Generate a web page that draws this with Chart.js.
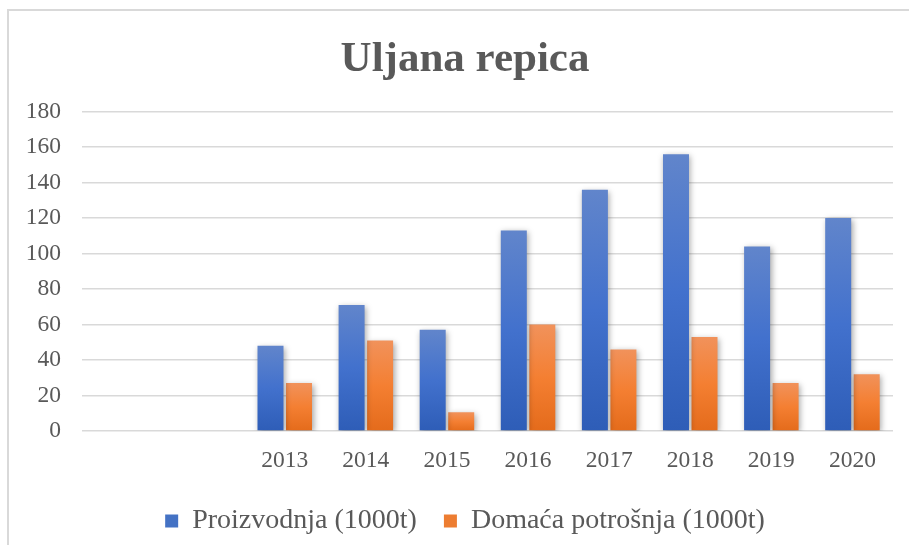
<!DOCTYPE html>
<html>
<head>
<meta charset="utf-8">
<script src="https://cdn.jsdelivr.net/npm/chart.js@4"></script>
<style>
  html, body { margin: 0; padding: 0; background: #fff; overflow: hidden; }
  body { width: 909px; height: 545px; position: relative; }
  #frame {
    position: absolute; left: 7px; top: 9px; width: 940px; height: 580px;
    border-top: 2px solid #d9d9d9; border-left: 2px solid #d9d9d9;
  }
  #wrap { position: absolute; left: 10px; top: 0; width: 910px; height: 545px; }
</style>
</head>
<body>
<div id="frame"></div>
<div id="wrap"><canvas id="chart"></canvas></div>
<script>
// chart data
const years = ["", "", "2013", "2014", "2015", "2016", "2017", "2018", "2019", "2020"];
const proizvodnja = [null, null, 48, 71, 57, 113, 136, 156, 104, 120];
const potrosnja = [null, null, 27, 51, 10.5, 60, 46, 53, 27, 32];
const yTicks = [0, 20, 40, 60, 80, 100, 120, 140, 160, 180];

const textColor = "#595959";
const fontFamily = "'Liberation Serif', 'Times New Roman', serif";

function barGradient(stops, solid) {
  return function(context) {
    const chart = context.chart;
    const y = chart.scales && chart.scales.y;
    if (context.type !== "data" || !y || context.raw == null) return solid;
    const top = y.getPixelForValue(context.raw);
    const base = y.getPixelForValue(0);
    const g = chart.ctx.createLinearGradient(0, top, 0, base);
    g.addColorStop(0, stops[0]);
    g.addColorStop(0.5, stops[1]);
    g.addColorStop(1, stops[2]);
    return g;
  };
}

// soft shadow behind the bars
const barShadow = {
  id: "barShadow",
  beforeDatasetsDraw(chart) {
    const c = chart.ctx;
    c.save();
    c.shadowColor = "rgba(0,0,0,0.35)";
    c.shadowBlur = 6;
    c.shadowOffsetX = 1.5;
    c.shadowOffsetY = 2;
  },
  afterDatasetsDraw(chart) {
    chart.ctx.restore();
  }
};

const ctx = document.getElementById("chart").getContext("2d");

new Chart(ctx, {
  type: "bar",
  data: {
    labels: years,
    datasets: [
      {
        label: "Proizvodnja (1000t)",
        data: proizvodnja,
        backgroundColor: barGradient(["#6185CB", "#4271CD", "#2E5DB7"], "#4472C4"),
        categoryPercentage: 0.703,
        barPercentage: 0.912
      },
      {
        label: "Domaća potrošnja (1000t)",
        data: potrosnja,
        backgroundColor: barGradient(["#F1925B", "#F47F32", "#E46B1B"], "#ED7D31"),
        categoryPercentage: 0.703,
        barPercentage: 0.912
      }
    ]
  },
  options: {
    responsive: true,
    maintainAspectRatio: false,
    animation: false,
    layout: { padding: { left: 16, right: 16, top: 0, bottom: 0 } },
    plugins: {
      title: {
        display: true,
        text: "Uljana repica",
        color: textColor,
        font: { family: fontFamily, size: 43, weight: "bold" },
        padding: { top: 34, bottom: 26 }
      },
      legend: {
        position: "bottom",
        labels: {
          color: textColor,
          font: { family: fontFamily, size: 28 },
          boxWidth: 13,
          boxHeight: 13,
          padding: 27
        }
      },
      tooltip: { enabled: false }
    },
    scales: {
      x: {
        grid: { display: false },
        border: { display: false },
        afterFit: scale => { scale.height = 49; },
        ticks: {
          color: textColor,
          font: { family: fontFamily, size: 23.5 },
          padding: 8,
          maxRotation: 0,
          autoSkip: false
        }
      },
      y: {
        min: 0,
        max: 180,
        afterBuildTicks: scale => { scale.ticks = yTicks.map(v => ({ value: v })); },
        afterFit: scale => { scale.width = 56; },
        grid: { color: "#d9d9d9", lineWidth: 1.5, drawTicks: false },
        border: { display: false },
        ticks: {
          color: textColor,
          font: { family: fontFamily, size: 23.5 },
          padding: 21
        }
      },
      // empty spacer on the right so title and legend stay centred
      yr: {
        type: "linear",
        position: "right",
        grid: { display: false },
        border: { display: false },
        ticks: { display: false },
        afterFit: scale => { scale.width = 11; }
      }
    }
  },
  plugins: [barShadow]
});
</script>
</body>
</html>
